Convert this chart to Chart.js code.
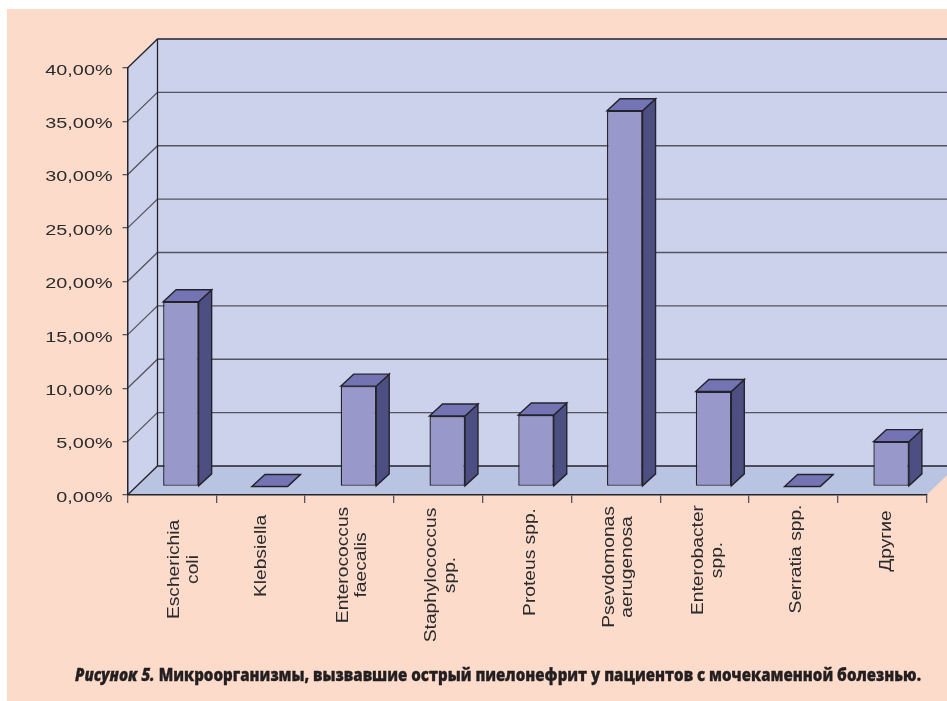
<!DOCTYPE html>
<html lang="ru">
<head>
<meta charset="utf-8">
<title>Рисунок 5</title>
<script src="https://cdn.jsdelivr.net/npm/chart.js@4"></script>
<style>
html,body{margin:0;padding:0;background:#fff;width:947px;height:701px;overflow:hidden}
#panel{position:absolute;left:7px;top:9px;width:940px;height:692px;background:#FDDBCB}
#chart{position:absolute;left:0;top:0}
#caption{position:absolute;left:75px;top:662px;white-space:nowrap;transform-origin:0 50%;
  font:800 17.5px "Open Sans",sans-serif;color:#231f20;-webkit-text-stroke:.35px #231f20}
</style>
</head>
<body>
<div id="panel"></div>
<canvas id="chart" width="947" height="701"></canvas>
<div id="caption"><b><i>Рисунок 5.</i> Микроорганизмы, вызвавшие острый пиелонефрит у пациентов с мочекаменной болезнью.</b></div>
<script>
// data
const categories = [
  ['Escherichia','coli'], 'Klebsiella', ['Enterococcus','faecalis'],
  ['Staphylococcus','spp.'], 'Proteus spp.', ['Psevdomonas','aerugenosa'],
  ['Enterobacter','spp.'], 'Serratia spp.', 'Другие'
];
const shares = [17.3, 0, 9.4, 6.6, 6.7, 35.2, 8.9, 0, 4.2];
const axisMin = 0, axisMax = 40, axisStep = 5;

// layout of the rotated labels (offset from tick centre, middle of the text)
const labelShiftX = [3.2, 1, -6, -6.5, 4, -6.5, -6, 3, 4];
const labelMidY   = [569.5, 556, 565, 575, 562, 567, 560, 559, 541];

// 3D look
const wallDepth = {x: 30, y: -29};
const barInset  = {x: 9,  y: -8.5};
const barDepth  = {x: 13, y: -12};
const colors = {wall:'#CDD2EC', floor:'#B9C4E2', front:'#9898CA', side:'#4D4E82', top:'#7474B4',
                line:'#23232b', grid:'#55555f', text:'#2b2b2d'};
const yStretch = 1.32, xStretch = 1.2;

function poly(ctx, pts, fill, stroke, lw){
  ctx.beginPath();
  pts.forEach((p,i)=> i ? ctx.lineTo(p[0],p[1]) : ctx.moveTo(p[0],p[1]));
  ctx.closePath();
  if(fill){ctx.fillStyle=fill;ctx.fill();}
  if(stroke){ctx.strokeStyle=stroke;ctx.lineWidth=lw;ctx.lineJoin='miter';ctx.stroke();}
}

const threeD = {
  id:'threeD',
  beforeDraw(chart){
    const {ctx, chartArea:a, scales:{x,y}} = chart;
    const dx=wallDepth.x, dy=wallDepth.y, W=chart.width;
    ctx.save();
    // floor, back wall and side wall
    poly(ctx,[[a.left,a.bottom],[a.left+dx,a.bottom+dy],[W,a.bottom+dy],[W,a.bottom+dy*(W-a.right)/dx],[a.right,a.bottom]],colors.floor);
    ctx.fillStyle=colors.wall;
    ctx.fillRect(a.left+dx,a.top+dy,W-a.left-dx,a.bottom-a.top);
    poly(ctx,[[a.left,a.bottom],[a.left+dx,a.bottom+dy],[a.left+dx,a.top+dy],[a.left,a.top]],colors.wall);
    // grid on the walls
    y.ticks.forEach((t,i)=>{
      const py=y.getPixelForTick(i);
      ctx.strokeStyle= (t.value===axisMin||t.value===axisMax) ? colors.line : colors.grid;
      ctx.lineWidth=1.3;
      ctx.beginPath();
      ctx.moveTo(a.left,py);ctx.lineTo(a.left+dx,py+dy);ctx.lineTo(W,py+dy);
      ctx.stroke();
    });
    ctx.strokeStyle=colors.line;ctx.lineWidth=1.3;
    ctx.beginPath();ctx.moveTo(a.left+dx,a.top+dy);ctx.lineTo(a.left+dx,a.bottom+dy);ctx.stroke();
    ctx.restore();

    // stretch the library's own tick text, which is wide in the original
    if(!x._wrapped){
      x._wrapped=true;
      x._computeLabelArea=()=>undefined;
      const orig=x.drawLabels.bind(x);
      x.drawLabels=function(area){
        const items=x.getLabelItems();
        items.forEach((it,i)=>{
          const lh=it.font.lineHeight;
          it.options.textAlign='center';
          it.options.translation=[x.getPixelForTick(i)-lh/2+labelShiftX[i], labelMidY[i]/xStretch];
        });
        const c=x.ctx;
        c.save();c.scale(1,xStretch);
        orig(area);
        c.restore();
      };
      const origY=y.drawLabels.bind(y);
      y.drawLabels=function(area){
        const c=y.ctx, r=y.right-y.options.grid.tickLength-y.options.ticks.padding;
        c.save();c.translate(r,2.5);c.scale(yStretch,1);c.translate(-r,0);
        origY(area);
        c.restore();
      };
    }
  },
  beforeDatasetDraw(chart,args){
    const ctx=chart.ctx, meta=args.meta;
    ctx.save();
    ctx.translate(barInset.x,barInset.y);
    meta.data.forEach(el=>{
      const l=el.x-el.width/2, r=el.x+el.width/2, t=el.y, b=el.base, dx=barDepth.x, dy=barDepth.y;
      poly(ctx,[[r,t],[r+dx,t+dy],[r+dx,b+dy],[r,b]],colors.side,colors.line,1.4);
      poly(ctx,[[l,t],[l+dx,t+dy],[r+dx,t+dy],[r,t]],colors.top,colors.line,1.4);
    });
  },
  afterDatasetDraw(chart){ chart.ctx.restore(); }
};

new Chart(document.getElementById('chart'),{
  type:'bar',
  data:{labels:categories,datasets:[{
    data:shares, backgroundColor:colors.front, borderColor:colors.line, borderWidth:1.4,
    borderSkipped:false, categoryPercentage:1, barPercentage:0.4, clip:false
  }]},
  plugins:[threeD],
  options:{
    responsive:false, animation:false, devicePixelRatio:1,
    layout:{padding:{top:68,right:20.5,left:0,bottom:0}},
    plugins:{legend:{display:false},tooltip:{enabled:false},title:{display:false}},
    scales:{
      x:{
        afterFit(s){s.height=206;},
        border:{color:colors.line,width:1.5},
        grid:{drawOnChartArea:false,drawTicks:true,tickLength:8,color:colors.grid,lineWidth:1.3},
        ticks:{autoSkip:false,minRotation:90,maxRotation:90,padding:10,color:colors.text,
               font:{family:'"Liberation Sans"',size:16,lineHeight:1.16}}
      },
      y:{
        min:axisMin,max:axisMax,
        afterFit(s){s.width=127.5;},
        border:{color:colors.line,width:1.5},
        grid:{drawOnChartArea:false,drawTicks:true,tickLength:5,color:colors.grid,lineWidth:1.3},
        ticks:{stepSize:axisStep,padding:10,color:colors.text,
               font:{family:'"Liberation Sans"',size:15},
               callback:v=>v.toFixed(2).replace('.',',')+'%'}
      }
    }
  }
});

// the caption is a condensed face in the original
document.fonts.ready.then(()=>{
  const cap=document.getElementById('caption');
  cap.style.transform='scaleX('+(846/cap.getBoundingClientRect().width)+')';
});
</script>
</body>
</html>
